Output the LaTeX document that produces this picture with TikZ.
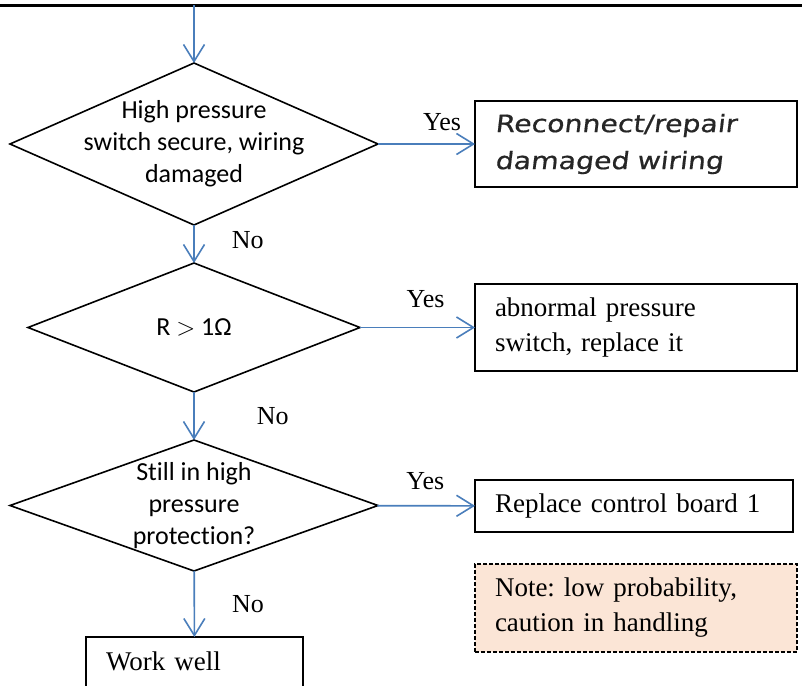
\documentclass[tikz,border=0pt]{standalone}
\usepackage{fontspec}
\setmainfont{Liberation Serif}
\setsansfont[Ligatures=NoCommon]{Carlito}
\newfontfamily\handfont[FakeSlant=0.12, FakeStretch=1.18, FakeBold=0.6]{DejaVu Sans}
\usepackage{xcolor}
\usetikzlibrary{positioning, shapes.geometric, arrows.meta}
\definecolor{flowblue}{HTML}{4A7EBB}
\definecolor{notefill}{HTML}{FBE5D6}
\frenchspacing

\begin{document}
\begin{tikzpicture}[
            x=1pt, y=-1pt,
            decision/.style={diamond, draw, line width=1.6pt, inner sep=0pt, outer sep=0pt},
            dtext/.style={font=\sffamily\fontsize{26}{32}\selectfont, align=center, inner sep=0pt},
            action/.style={rectangle, draw, line width=1.6pt, align=left, inner xsep=20pt,
                inner ysep=0pt, outer sep=0pt, font=\fontsize{27}{35}\selectfont},
            flow/.style={draw=flowblue, line width=1.6pt, -{Straight Barb[length=17pt, width=21pt]}},
            answer/.style={font=\fontsize{26}{30}\selectfont, inner sep=2pt},
        ]
            \useasboundingbox (0,0) rectangle (802,685);
            \clip (0,0) rectangle (802,685);

            \draw[line width=3pt] (0,5.5) coordinate (rule west) -- (802,5.5) coordinate (rule east);
            \coordinate (start) at (194,5.5);

            \node[decision, minimum width=368pt, minimum height=162pt] (d1) at (194,144) {};
            \node[dtext] (t1) at (d1) {High pressure\\switch secure, wiring\\damaged};

            \node[decision, minimum width=332pt, minimum height=129pt] (d2) at (194,327.5) {};
            \node[dtext] (t2) at (d2) {R $>$ 1Ω};

            \node[decision, minimum width=368pt, minimum height=131pt] (d3) at (194,505.5) {};
            \node[dtext] (t3) at (d3) {Still in high\\pressure\\protection?};

            \node[action, anchor=west, text width=282pt, minimum height=86pt,
                font=\handfont\fontsize{24}{37}\selectfont, text=black!85] (b1) at (475,144)
                {Reconnect/repair\\damaged wiring};
            \node[action, anchor=west, text width=282pt, minimum height=87pt] (b2) at (475,327.5)
                {abnormal pressure\\switch, replace it};
            \node[action, anchor=west, text width=278pt, minimum height=52pt] (b3) at (475,506)
                {Replace control board 1};
            \node[action, anchor=west, text width=282pt, minimum height=88pt,
                dash pattern=on 4pt off 2pt, line width=1.3pt, fill=notefill] (note) at (475,608)
                {Note: low probability,\\caution in handling};
            \node[action, anchor=north west, text width=177pt, inner ysep=14.5pt,
                text depth=30pt] (ok) at (86,637) {Work well};

            \draw[flow] (start) -- (d1);
            \draw[flow] (d1) -- node[answer, above=10pt, pos=0.66] (y1) {Yes} (b1);
            \draw[flow] (d1) -- node[answer, right=35pt, pos=0.4] (n1) {No} (d2);
            \draw[flow] (d2) -- node[answer, above=17pt, pos=0.57] (y2) {Yes} (b2);
            \draw[flow] (d2) -- node[answer, right=60pt, pos=0.5] (n2) {No} (d3);
            \draw[flow] (d3) -- node[answer, above=13pt, pos=0.49] (y3) {Yes} (b3);
            \draw[flow] (d3) -- node[answer, right=35pt, pos=0.5] (n3) {No} (ok);
        \end{tikzpicture}
\end{document}
